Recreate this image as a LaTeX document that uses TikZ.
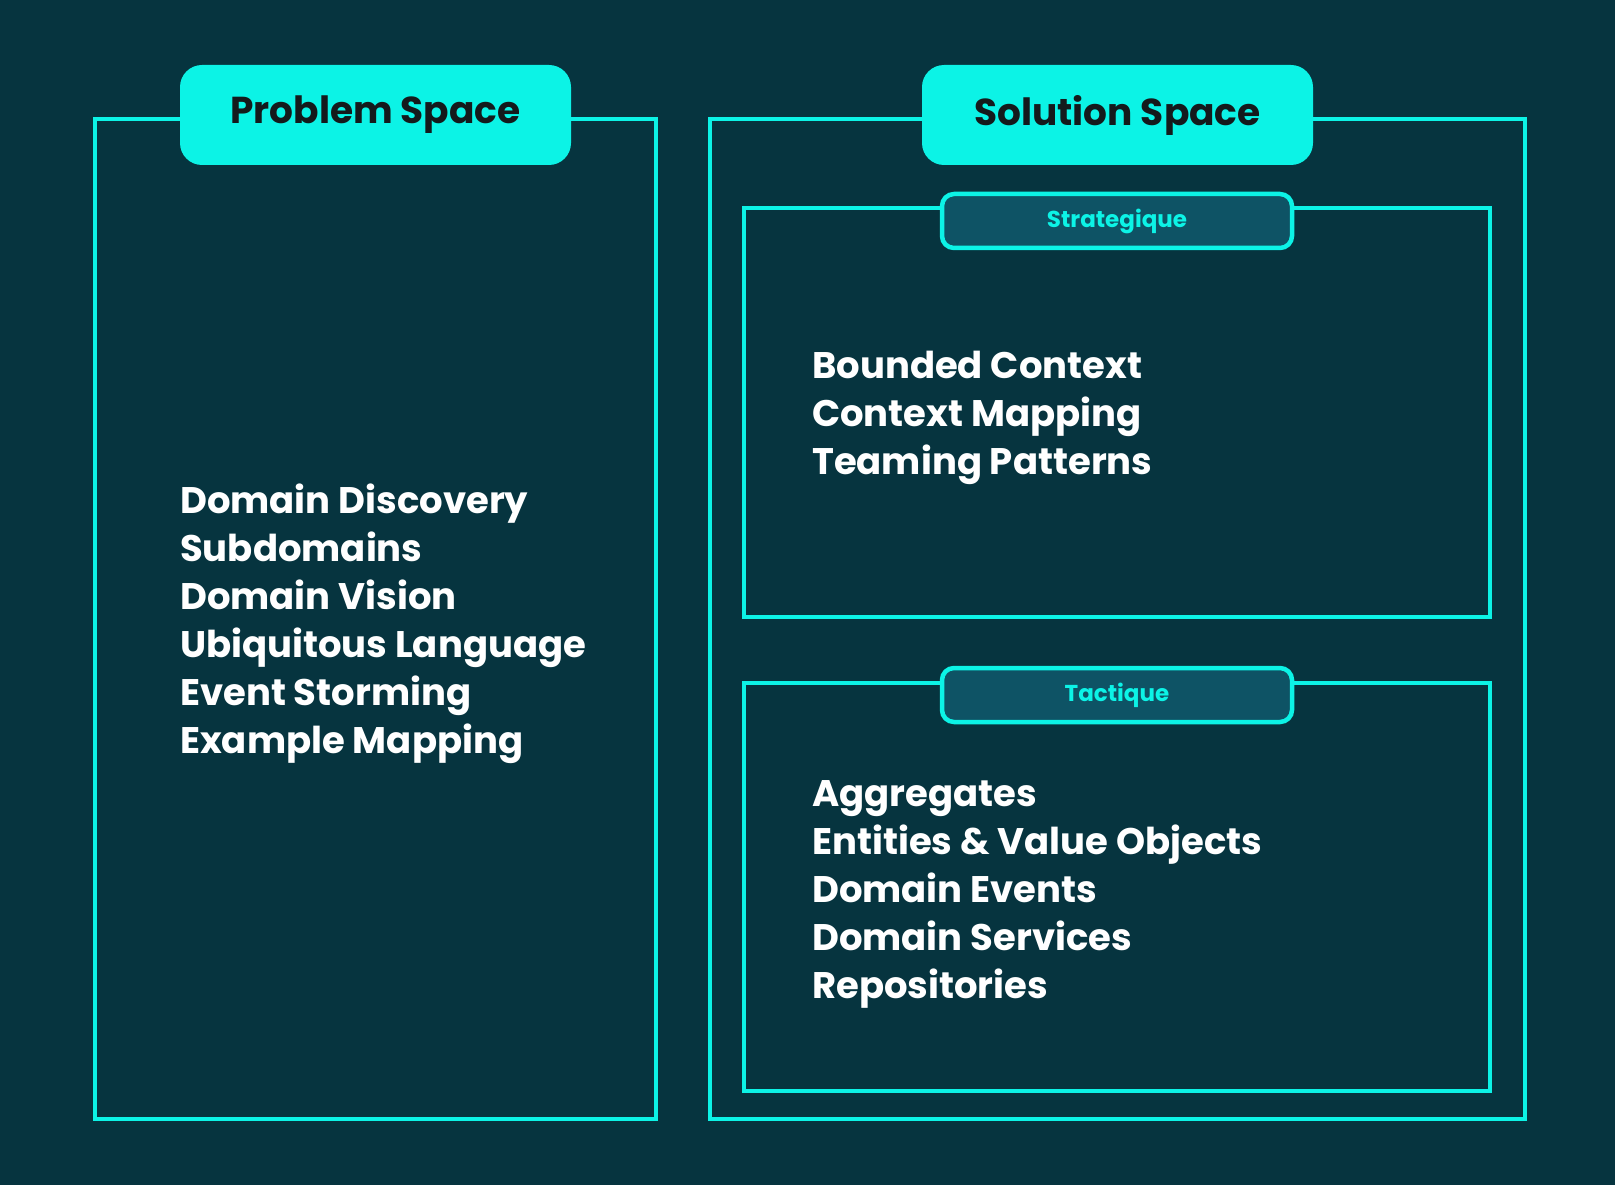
\documentclass[tikz,border=0pt]{standalone}
\usepackage{fontspec}
\setmainfont{Poppins}
\definecolor{bg}{HTML}{06343F}
\definecolor{cy}{HTML}{0CF3E6}
\definecolor{pillfill}{HTML}{0E5365}
\definecolor{ink}{HTML}{141A1C}
\begin{document}
\begin{tikzpicture}[x=1pt,y=-1pt,
  frame/.style={draw=cy,line width=4pt},
  bigpill/.style={fill=cy,rounded corners=22pt,minimum width=391pt,minimum height=100pt,inner sep=0pt,
     font=\fontsize{37.5}{40}\selectfont\bfseries,text=ink},
  smallpill/.style={draw=cy,fill=pillfill,line width=4.5pt,rounded corners=12pt,minimum width=350pt,minimum height=54pt,inner sep=0pt,
     font=\fontsize{23}{25}\selectfont\bfseries,text=cy},
  item/.style={anchor=base west,inner sep=0pt,text=white,font=\fontsize{37}{40}\selectfont\bfseries}]
\fill[bg] (0,0) rectangle (1615,1185);
\useasboundingbox (0,0) rectangle (1615,1185);
% frames
\draw[frame] (95,119.5) rectangle (656,1118.5);
\draw[frame] (710,119.5) rectangle (1525,1118.5);
\draw[frame] (744,208) rectangle (1490,617);
\draw[frame] (744,683) rectangle (1490,1091);
% pills
\node[bigpill] (ps) at (375.5,115) {Problem Space};
\node[bigpill] (ss) at (1117.5,115) {Solution Space};
\node[smallpill] (st) at (1117,221) {Strategique};
\node[smallpill] (ta) at (1117,695) {Tactique};
% problem list
\node[item] (p1) at (180,513) {Domain Discovery};
\node[item] (p2) at (180,561) {Subdomains};
\node[item] (p3) at (180,609) {Domain Vision};
\node[item] (p4) at (180,657) {Ubiquitous Language};
\node[item] (p5) at (180,705) {Event Storming};
\node[item] (p6) at (180,753) {Example Mapping};
% strategic list
\node[item] (s1) at (812,378) {Bounded Context};
\node[item] (s2) at (812,426) {Context Mapping};
\node[item] (s3) at (812,474) {Teaming Patterns};
% tactical list
\node[item] (t1) at (812,806) {Aggregates};
\node[item] (t2) at (812,854) {Entities \& Value Objects};
\node[item] (t3) at (812,902) {Domain Events};
\node[item] (t4) at (812,950) {Domain Services};
\node[item] (t5) at (812,998) {Repositories};
\end{tikzpicture}
\end{document}
